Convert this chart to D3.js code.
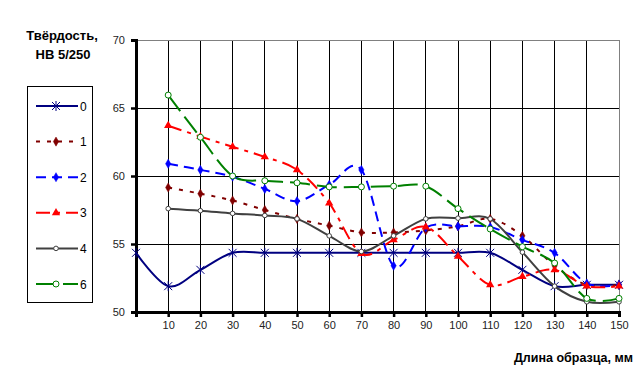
<!DOCTYPE html>
<html>
<head>
<meta charset="utf-8">
<script src="https://cdn.jsdelivr.net/npm/d3@7"></script>
<style>
  body { margin: 0; background: #fff; }
  svg { font-family: "Liberation Sans", Arial, sans-serif; }
</style>
</head>
<body>
<div id="chart"></div>
<script>
// values
const lengths = [0, 10, 20, 30, 40, 50, 60, 70, 80, 90, 100, 110, 120, 130, 140, 150];
const seriesNames = ["0", "1", "2", "3", "4", "6"];
const s0 = [54.35, 51.9, 53.1, 54.35, 54.35, 54.35, 54.35, 54.35, 54.35, 54.35, 54.35, 54.35, 53.1, 51.9, 52.0, 52.0];
const s1 = [null, 59.15, 58.7, 58.2, 57.5, 56.85, 56.35, 55.85, 55.85, 56.0, 56.3, 56.85, 55.6, 53.4, 52.0, 52.0];
const s2 = [null, 60.9, 60.45, 59.95, 59.05, 58.15, 59.35, 60.45, 53.4, 56.2, 56.3, 56.25, 55.3, 54.35, 52.1, 52.0];
const s3 = [null, 63.7, 62.9, 62.15, 61.4, 60.45, 58.0, 54.3, 55.3, 56.25, 54.1, 52.0, 52.6, 53.1, 51.9, 51.9];
const s4 = [null, 57.6, 57.45, 57.25, 57.1, 56.85, 55.6, 54.45, 55.6, 56.85, 56.9, 56.85, 54.4, 51.9, 50.75, 50.75];
const s6 = [null, 65.95, 62.85, 60.0, 59.65, 59.5, 59.2, 59.2, 59.25, 59.25, 57.6, 56.1, 54.8, 53.6, 51.0, 51.0];
const yTicks = [50, 55, 60, 65, 70];
const xTicks = [10, 20, 30, 40, 50, 60, 70, 80, 90, 100, 110, 120, 130, 140, 150];

const W = 642, H = 387;
const m = { left: 136, right: 23, top: 40, bottom: 75 };

const svg = d3.select("#chart").append("svg")
    .attr("width", W).attr("height", H);

const x = d3.scaleLinear().domain([0, 150]).range([m.left, W - m.right]);
const y = d3.scaleLinear().domain([50, 70]).range([H - m.bottom, m.top]);

// gridlines
svg.append("g").selectAll("line")
    .data(xTicks.slice(0, -1)).enter().append("line")
    .attr("x1", d => x(d)).attr("x2", d => x(d))
    .attr("y1", y(70)).attr("y2", y(50))
    .attr("stroke", "#000").attr("stroke-width", 1)
    .attr("shape-rendering", "crispEdges");
svg.append("g").selectAll("line")
    .data([55, 60, 65]).enter().append("line")
    .attr("x1", x(0)).attr("x2", x(150))
    .attr("y1", d => y(d)).attr("y2", d => y(d))
    .attr("stroke", "#000").attr("stroke-width", 1)
    .attr("shape-rendering", "crispEdges");
// plot frame top / right
svg.append("path")
    .attr("d", `M${x(0)},${y(70)}H${x(150)}V${y(50)}`)
    .attr("fill", "none").attr("stroke", "#808080").attr("stroke-width", 1)
    .attr("shape-rendering", "crispEdges");

// axes
const yAxis = svg.append("g")
    .attr("transform", `translate(${x(0)},0)`)
    .call(d3.axisLeft(y).tickValues(yTicks).tickSize(5).tickPadding(6));
const xAxis = svg.append("g")
    .attr("transform", `translate(0,${y(50)})`)
    .call(d3.axisBottom(x).tickValues(xTicks).tickSize(5).tickPadding(4));
[yAxis, xAxis].forEach(a => {
  a.select(".domain").attr("stroke", "#000").attr("stroke-width", 3);
  a.selectAll(".tick line").attr("stroke", "#000").attr("stroke-width", 2.5);
  a.selectAll(".tick text").attr("font-size", 11).attr("fill", "#222")
    .attr("font-family", "Liberation Sans, Arial, sans-serif");
});

// axis titles
svg.append("text").attr("x", 62).attr("y", 40)
    .attr("text-anchor", "middle").attr("font-weight", "bold").attr("font-size", 13)
    .text("Твёрдость,");
svg.append("text").attr("x", 63).attr("y", 59)
    .attr("text-anchor", "middle").attr("font-weight", "bold").attr("font-size", 13)
    .text("НВ 5/250");
svg.append("text").attr("x", 633).attr("y", 362)
    .attr("text-anchor", "end").attr("font-weight", "bold").attr("font-size", 12.5)
    .text("Длина образца, мм");

// series styles
const styles = [
  { data: s0, color: "#000080", dash: null, marker: "star" },
  { data: s1, color: "#800000", dash: "4,7", marker: "diamond" },
  { data: s2, color: "#0000ff", dash: "10,6", marker: "diamond" },
  { data: s3, color: "#ff0000", dash: "14,6,4,6", marker: "triangle" },
  { data: s4, color: "#404040", dash: null, marker: "circle" },
  { data: s6, color: "#008000", dash: "20,7", marker: "ocircle" }
];

function drawMarker(g, kind, color) {
  if (kind === "star") {
    g.append("path").attr("d", "M-4,-4L4,4M-4,4L4,-4M0,-5L0,5")
      .attr("stroke", color).attr("stroke-width", 1).attr("fill", "none");
  } else if (kind === "diamond") {
    g.append("path").attr("d", d3.symbol(d3.symbolDiamond, 24)())
      .attr("fill", color).attr("stroke", color).attr("stroke-width", 0.5);
  } else if (kind === "triangle") {
    g.append("path").attr("d", d3.symbol(d3.symbolTriangle, 30)())
      .attr("fill", color);
  } else if (kind === "circle") {
    g.append("circle").attr("r", 2.3).attr("fill", "#fff")
      .attr("stroke", color).attr("stroke-width", 1);
  } else {
    g.append("circle").attr("r", 3).attr("fill", "#fff")
      .attr("stroke", color).attr("stroke-width", 1);
  }
}

const line = d3.line()
    .defined(d => d[1] != null)
    .x(d => x(d[0])).y(d => y(d[1]))
    .curve(d3.curveCardinal.tension(0));

styles.forEach(st => {
  const pts = lengths.map((l, i) => [l, st.data[i]]).filter(p => p[1] != null);
  svg.append("path").datum(pts)
      .attr("d", line)
      .attr("fill", "none").attr("stroke", st.color).attr("stroke-width", 2)
      .attr("stroke-dasharray", st.dash);
  pts.forEach(p => {
    const g = svg.append("g").attr("transform", `translate(${x(p[0])},${y(p[1])})`);
    drawMarker(g, st.marker, st.color);
  });
});

// legend
svg.append("rect").attr("x", 27.5).attr("y", 86.5).attr("width", 65).attr("height", 216)
    .attr("fill", "#fff").attr("stroke", "#000").attr("stroke-width", 1);
const ly = d3.scalePoint().domain(seriesNames).range([106, 284]);
styles.forEach((st, i) => {
  const yy = ly(seriesNames[i]);
  svg.append("line").attr("x1", 36).attr("x2", 78).attr("y1", yy).attr("y2", yy)
      .attr("stroke", st.color).attr("stroke-width", 2)
      .attr("stroke-dasharray", st.dash);
  const g = svg.append("g").attr("transform", `translate(56,${yy})`);
  drawMarker(g, st.marker, st.color);
  svg.append("text").attr("x", 80).attr("y", yy + 4.5)
      .attr("font-size", 12).attr("fill", "#000").text(seriesNames[i]);
});
</script>
</body>
</html>
